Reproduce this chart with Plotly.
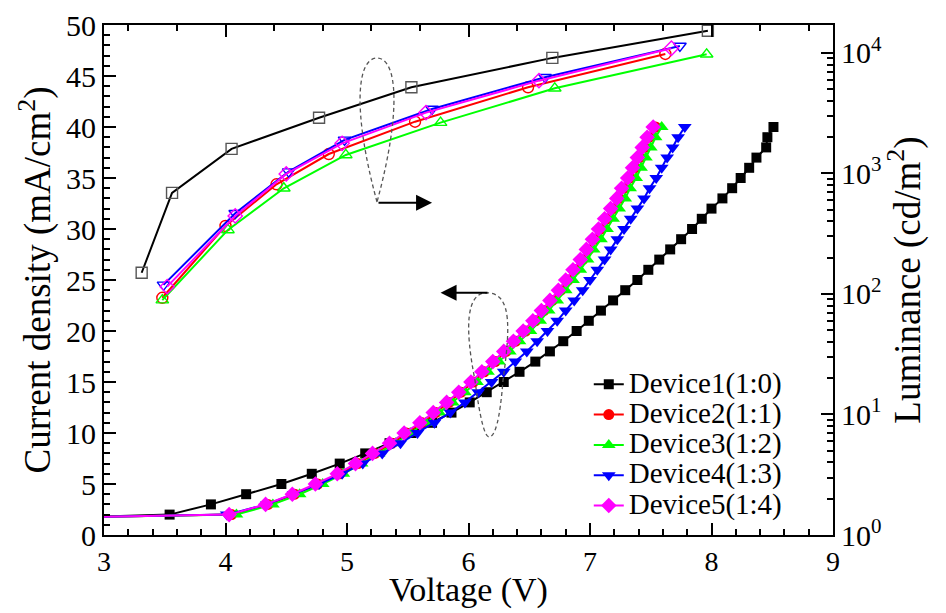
import plotly.graph_objects as go

# ---------------- data ----------------
devices = ["Device1(1:0)", "Device2(1:1)", "Device3(1:2)", "Device4(1:3)", "Device5(1:4)"]
colors = ["#000000", "#ff0000", "#00ff00", "#0000ff", "#ff00ff"]
jv_symbols = ["square", "circle", "triangle-up", "triangle-down", "diamond"]
lum_symbols = ["square-open", "circle-open", "triangle-up-open", "triangle-down-open", "diamond-open"]

# Current density samples (mA/cm^2), shared by all devices (first point is the low-voltage plateau)
j_jv = [1.75, 2, 3, 4, 5, 6, 7, 8, 9, 10, 11, 12, 13, 14, 15, 16, 17, 18, 19, 20,
        21, 22, 23, 24, 25, 26, 27, 28, 29, 30, 31, 32, 33, 34, 35, 36, 37, 38, 39, 40]

# Voltage (V) at each current-density sample
v_jv_dev1 = [2.8, 3.54, 3.88, 4.17, 4.46, 4.71, 4.94, 5.15, 5.35, 5.53, 5.70, 5.86, 6.01, 6.15,
             6.29, 6.42, 6.55, 6.67, 6.78, 6.89, 6.99, 7.09, 7.19, 7.29, 7.39, 7.48, 7.57,
             7.66, 7.75, 7.84, 7.92, 8.00, 8.09, 8.17, 8.24, 8.31, 8.37, 8.45, 8.46, 8.51]
v_jv_dev2 = [2.8, 4.05, 4.35, 4.57, 4.76, 4.94, 5.09, 5.23, 5.37, 5.49, 5.62, 5.73, 5.84, 5.94,
             6.04, 6.13, 6.22, 6.31, 6.39, 6.47, 6.55, 6.62, 6.69, 6.76, 6.82, 6.88, 6.94,
             6.99, 7.04, 7.09, 7.14, 7.19, 7.24, 7.28, 7.33, 7.37, 7.41, 7.45, 7.49, 7.54]
v_jv_dev3 = [2.8, 4.09, 4.39, 4.61, 4.80, 4.97, 5.12, 5.26, 5.40, 5.52, 5.65, 5.76, 5.87, 5.97,
             6.07, 6.16, 6.25, 6.34, 6.42, 6.51, 6.59, 6.66, 6.73, 6.80, 6.86, 6.92, 6.98,
             7.03, 7.09, 7.14, 7.19, 7.24, 7.29, 7.33, 7.38, 7.42, 7.46, 7.50, 7.54, 7.59]
v_jv_dev4 = [2.8, 4.01, 4.34, 4.56, 4.77, 4.96, 5.13, 5.29, 5.44, 5.58, 5.72, 5.85, 5.97, 6.08,
             6.19, 6.29, 6.385, 6.48, 6.565, 6.65, 6.73, 6.80, 6.87, 6.94, 7.00, 7.06, 7.12,
             7.17, 7.225, 7.28, 7.335, 7.39, 7.445, 7.49, 7.545, 7.59, 7.635, 7.68, 7.725, 7.78]
v_jv_dev5 = [2.8, 4.03, 4.33, 4.55, 4.74, 4.92, 5.07, 5.21, 5.35, 5.47, 5.60, 5.71, 5.82, 5.92,
             6.02, 6.11, 6.20, 6.29, 6.37, 6.45, 6.53, 6.60, 6.67, 6.74, 6.80, 6.86, 6.92,
             6.97, 7.02, 7.07, 7.12, 7.17, 7.22, 7.26, 7.31, 7.35, 7.39, 7.43, 7.47, 7.52]

# Luminance (cd/m^2) vs voltage (V)
v_lum_dev1 = [3.31, 3.56, 4.05, 4.77, 5.53, 6.69, 7.97]
l_lum_dev1 = [150, 690, 1600, 2900, 5200, 9100, 15300]
v_lum_dev2 = [3.48, 4.00, 4.42, 4.85, 5.56, 6.49, 7.62]
l_lum_dev2 = [93, 367, 813, 1450, 2690, 5190, 9810]
v_lum_dev3 = [3.48, 4.02, 4.48, 4.99, 5.77, 6.71, 7.96]
l_lum_dev3 = [89, 340, 754, 1425, 2640, 5090, 9750]
v_lum_dev4 = [3.49, 4.08, 4.52, 4.98, 5.70, 6.63, 7.74]
l_lum_dev4 = [119, 468, 1035, 1900, 3430, 6290, 11430]
v_lum_dev5 = [3.52, 4.08, 4.50, 4.96, 5.65, 6.58, 7.67]
l_lum_dev5 = [115, 444, 991, 1780, 3200, 5890, 10940]

x_ticks = [3, 4, 5, 6, 7, 8, 9]
y_ticks = [0, 5, 10, 15, 20, 25, 30, 35, 40, 45, 50]
lum_ticks = [1, 10, 100, 1000, 10000]
lum_tick_text = ["10<sup>0</sup>", "10<sup>1</sup>", "10<sup>2</sup>", "10<sup>3</sup>", "10<sup>4</sup>"]

v_jv = [v_jv_dev1, v_jv_dev2, v_jv_dev3, v_jv_dev4, v_jv_dev5]
v_lum = [v_lum_dev1, v_lum_dev2, v_lum_dev3, v_lum_dev4, v_lum_dev5]
l_lum = [l_lum_dev1, l_lum_dev2, l_lum_dev3, l_lum_dev4, l_lum_dev5]

FONT = "Liberation Serif"

fig = go.Figure()

# Luminance curves (open symbols, right log axis)
for i in range(5):
    fig.add_trace(go.Scatter(
        x=v_lum[i], y=l_lum[i], xaxis="x2", yaxis="y2", mode="lines+markers",
        line=dict(color=colors[i], width=2),
        marker=dict(symbol=lum_symbols[i], size=11, color=colors[i] if i else "#555555",
                    line=dict(width=1.4, color=colors[i] if i else "#555555")),
        showlegend=False, name=devices[i]))

# J-V curves (filled symbols, left axis)
marker_sizes = [10, 11, 12, 12, 12]
for i in range(5):
    fig.add_trace(go.Scatter(
        x=v_jv[i], y=j_jv, mode="lines+markers",
        line=dict(color=colors[i], width=2),
        marker=dict(symbol=jv_symbols[i], size=marker_sizes[i], color=colors[i], line=dict(width=0)),
        name='<span style="font-size:29px">' + devices[i] + '</span>'))

axis_common = dict(showgrid=False, zeroline=False, showline=True, linewidth=2, linecolor="black",
                   ticks="inside", tickwidth=2, ticklen=12, tickcolor="black", automargin=False)

# the page body adds an 8 px offset, so the figure is 8 px smaller than the window
fig.update_layout(
    width=938, height=605,
    margin=dict(l=96, r=113, t=17, b=78, autoexpand=False),
    paper_bgcolor="white", plot_bgcolor="white",
    font=dict(family=FONT, color="black", size=30),
    xaxis=dict(range=[3, 9], tickvals=x_ticks, tickfont=dict(size=28),
               minor=dict(dtick=0.2, tick0=0, ticks="inside", ticklen=6, tickwidth=1.5, tickcolor="black"),
               **axis_common),
    xaxis2=dict(range=[3, 9], overlaying="x", side="top", anchor="y2", tick0=0, dtick=2,
                showticklabels=False,
                minor=dict(dtick=0.4, tick0=0, ticks="inside", ticklen=6, tickwidth=1.5, tickcolor="black"),
                **axis_common),
    yaxis=dict(range=[0, 50], tickvals=y_ticks, tickfont=dict(size=30),
               minor=dict(dtick=1, tick0=0, ticks="inside", ticklen=6, tickwidth=1.5, tickcolor="black"),
               title=dict(text="Current density (mA/cm<sup>2</sup>)", font=dict(size=37), standoff=4),
               **axis_common),
    yaxis2=dict(type="log", range=[0, 4.232], overlaying="y", side="right", anchor="x2",
                tickvals=lum_ticks, ticktext=lum_tick_text, tickfont=dict(size=30),
                minor=dict(tickvals=[m * 10 ** k for k in range(0, 5) for m in range(2, 10)],
                           ticks="inside", ticklen=6, tickwidth=1.5, tickcolor="black"),
                title=dict(text="Luminance (cd/m<sup>2</sup>)", font=dict(size=37), standoff=4),
                **axis_common),
    legend=dict(x=0.665, y=0.335, xanchor="left", yanchor="top", bgcolor="rgba(0,0,0,0)",
                font=dict(family=FONT, size=21), tracegroupgap=0, itemwidth=30),
    shapes=[
        dict(type="path", xref="x", yref="y",
             path="M5.247,32.65 C5.041,41.67 5.082,46.76 5.247,46.76 C5.412,46.76 5.453,41.67 5.247,32.65 Z",
             line=dict(color="#555555", width=1.3, dash="4px,3px")),
        dict(type="path", xref="x", yref="y",
             path=("M6.169,23.73 C5.971,24.02 5.971,20.10 6.053,15.20 C6.095,11.27 6.136,9.61 6.169,9.61 "
                   "C6.218,9.61 6.259,11.27 6.284,15.20 C6.342,20.10 6.358,23.53 6.169,23.73 Z"),
             line=dict(color="#555555", width=1.3, dash="4px,3px")),
    ],
    annotations=[
        dict(text="Voltage (V)", xref="paper", yref="paper", x=0.5, y=-0.108,
             xanchor="center", yanchor="middle", showarrow=False, font=dict(size=34)),
        dict(x=5.70, y=32.58, ax=5.247, ay=32.58, xref="x", yref="y", axref="x", ayref="y",
             text="", showarrow=True, arrowhead=2, arrowsize=1.6, arrowwidth=2, arrowcolor="black"),
        dict(x=5.77, y=23.75, ax=6.169, ay=23.75, xref="x", yref="y", axref="x", ayref="y",
             text="", showarrow=True, arrowhead=2, arrowsize=1.6, arrowwidth=2, arrowcolor="black"),
    ],
)

fig.write_html("out.html")
